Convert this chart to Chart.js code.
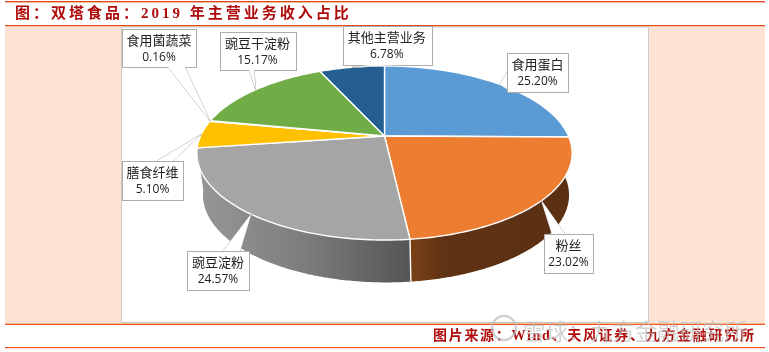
<!DOCTYPE html>
<html lang="zh"><head><meta charset="utf-8">
<style>html,body{margin:0;padding:0;background:#fff}canvas{display:block}</style>
<script src="https://cdn.jsdelivr.net/npm/chart.js@4"></script>
</head><body><canvas id="c" width="769" height="352"></canvas>
<script>
const categories = ['食用蛋白','粉丝','豌豆淀粉','膳食纤维','食用菌蔬菜','豌豆干淀粉','其他主营业务'];
const shares = [25.20,23.02,24.57,5.10,0.16,15.17,6.78];
const sliceColors = ['#5b9bd5','#ed7d31','#a5a5a5','#ffc000','#4472c4','#70ad47','#255e91'];
const titleText = '图：双塔食品：2019 年主营业务收入占比';
const sourceText = '图片来源：Wind、天风证券、九方金融研究所';
const watermarkText = '雪球：九方金融研究所';

const CJK = '"Noto Sans CJK SC","Noto Sans",sans-serif';
const HEAD = '"Liberation Serif","Noto Sans CJK SC",serif';
// perspective projection of the pie disc
const TOP = {cx:384.5, cy:136, rx:184, ry:83.7, p:0.1955};
const BASE = {cx:386, cy:178, rx:179.5, ry:84, p:0.1955};
const project = (d,t,r=1)=>{
  const u=Math.sin(t)*r, v=-Math.cos(t)*r, w=1/(1-d.p*v);
  return [d.cx+d.rx*u*w, d.cy+d.ry*v*w];
};
const clockAngle = a => a+Math.PI/2;

// callout boxes, same order as categories: x,y,w,h, base of pointer on box edge
const boxes = [
 {x:507,y:53,w:61,h:39,b:[[507,72],[507,89]]},
 {x:544,y:234,w:49,h:39,b:[[552,234],[565,234]]},
 {x:187,y:251,w:62,h:39,b:[[223,251],[240,251]]},
 {x:122,y:161,w:61,h:39,b:[[157,161],[173,161]]},
 {x:122,y:29,w:74,h:38,b:[[168,67],[185,67]]},
 {x:219.5,y:32,w:76,h:38,b:[[249,70],[254,70]]},
 {x:342.5,y:26,w:88.5,h:39,b:[[370,65],[400,65]]}
];

Chart.ArcElement.prototype.draw = function(ctx){
  const a=clockAngle(this.startAngle), b=clockAngle(this.endAngle);
  const n=Math.max(2,Math.ceil((b-a)/0.02));
  ctx.save();
  ctx.beginPath();
  ctx.moveTo(TOP.cx,TOP.cy);
  for(let i=0;i<=n;i++){const q=project(TOP,a+(b-a)*i/n);ctx.lineTo(q[0],q[1]);}
  ctx.closePath();
  ctx.fillStyle=this.options.backgroundColor;
  ctx.fill();
  ctx.strokeStyle='#fff';ctx.lineWidth=1.4;ctx.lineJoin='round';
  ctx.stroke();
  ctx.restore();
};

function wall(ctx,a,b,stops){
  const n=Math.ceil((b-a)/0.01);
  ctx.beginPath();
  for(let i=0;i<=n;i++){const q=project(TOP,a+(b-a)*i/n);i?ctx.lineTo(q[0],q[1]):ctx.moveTo(q[0],q[1]);}
  for(let i=n;i>=0;i--){const q=project(BASE,a+(b-a)*i/n);ctx.lineTo(q[0],q[1]);}
  ctx.closePath();
  const x0=project(TOP,a)[0],x1=project(TOP,b)[0];
  const g=ctx.createLinearGradient(Math.min(x0,x1),0,Math.max(x0,x1),0);
  stops.forEach(s=>g.addColorStop(s[0],s[1]));
  ctx.fillStyle=g;ctx.fill();
}

const page3d = {
  id:'page3d',
  beforeDraw(chart){
    const c=chart.ctx;c.save();
    c.fillStyle='#fff';c.fillRect(0,0,769,352);
    c.fillStyle='#fce3d4';c.fillRect(5,26,760,297);
    c.fillStyle='#fff';c.fillRect(121,27,527,295);
    c.strokeStyle='#c9c9c9';c.lineWidth=1;
    c.beginPath();c.moveTo(121.5,27);c.lineTo(121.5,322.5);c.lineTo(648.5,322.5);c.lineTo(648.5,27);c.lineTo(121.5,27);c.stroke();
    c.fillStyle='#e0491a';
    c.fillRect(5,1,760,1.4);c.fillRect(5,25,760,1.2);
    c.fillStyle='#f25510';
    c.fillRect(5,323.6,760,1.4);c.fillRect(5,347,760,1.2);
    c.fillStyle='#b00b0b';c.font='bold 15px '+HEAD;c.textBaseline='middle';c.textAlign='left';
    c.letterSpacing='3px';c.fillText(titleText,15,14);
    c.letterSpacing='0px';
    c.restore();
  },
  beforeDatasetsDraw(chart){
    const c=chart.ctx, m=chart.getDatasetMeta(0).data;
    c.save();
    const B=clockAngle(m[1].endAngle),E=clockAngle(m[2].endAngle);
    wall(c,Math.PI*0.40,B,[[0,'#7b4117'],[0.25,'#5f3213'],[1,'#5b3013']]);
    wall(c,B,Math.min(E,Math.PI*1.47),[[0,'#979797'],[0.5,'#7d7d7d'],[1,'#555555']]);
    const p=project(TOP,B),q=project(BASE,B);
    c.strokeStyle='#fff';c.lineWidth=1.4;c.beginPath();c.moveTo(p[0],p[1]);c.lineTo(q[0],q[1]);c.stroke();
    c.restore();
  },
  afterDatasetsDraw(chart){
    const c=chart.ctx, m=chart.getDatasetMeta(0).data;
    c.save();
    categories.forEach((name,i)=>{
      const b=boxes[i], mid=clockAngle((m[i].startAngle+m[i].endAngle)/2), ap=project(TOP,mid);
      c.fillStyle='#fff';c.strokeStyle='#adadad';c.lineWidth=1;
      c.beginPath();c.moveTo(b.b[0][0],b.b[0][1]);c.lineTo(ap[0],ap[1]);c.lineTo(b.b[1][0],b.b[1][1]);c.closePath();c.fill();
      c.beginPath();c.moveTo(b.b[0][0],b.b[0][1]);c.lineTo(ap[0],ap[1]);c.lineTo(b.b[1][0],b.b[1][1]);c.stroke();
      c.fillRect(b.x,b.y,b.w,b.h);c.strokeRect(Math.round(b.x)+.5,Math.round(b.y)+.5,Math.round(b.w),Math.round(b.h));
      c.fillStyle='#fff';
      c.beginPath();c.moveTo(b.b[0][0],b.b[0][1]);c.lineTo(ap[0],ap[1]);c.lineTo(b.b[1][0],b.b[1][1]);c.closePath();c.fill();
      c.fillStyle='#222';c.textAlign='center';c.textBaseline='middle';
      c.font='13px '+CJK;c.fillText(name,b.x+b.w/2,b.y+11.5);
      c.font='12px "Open Sans","Noto Sans",sans-serif';c.fillText(shares[i].toFixed(2)+'%',b.x+b.w/2,b.y+29);
    });
    c.textAlign='left';c.textBaseline='middle';
    c.fillStyle='#b00b0b';c.font='bold 14px '+HEAD;c.letterSpacing='1.7px';c.fillText(sourceText,433,336);
    c.letterSpacing='0px';
    c.fillStyle='rgba(190,190,190,.7)';c.font='22.4px '+CJK;c.fillText(watermarkText,523,331);
    c.strokeStyle='rgba(190,190,190,.7)';c.lineWidth=2.5;c.beginPath();c.arc(504,328,12,0,Math.PI*2);c.stroke();
    c.restore();
  }
};

new Chart(document.getElementById('c'),{
  type:'pie',
  data:{labels:categories,datasets:[{data:shares,backgroundColor:sliceColors,borderColor:'#fff',borderWidth:1}]},
  options:{responsive:false,animation:false,events:[],
    layout:{padding:0},
    plugins:{legend:{display:false},tooltip:{enabled:false},title:{display:false}}},
  plugins:[page3d]
});
</script></body></html>
